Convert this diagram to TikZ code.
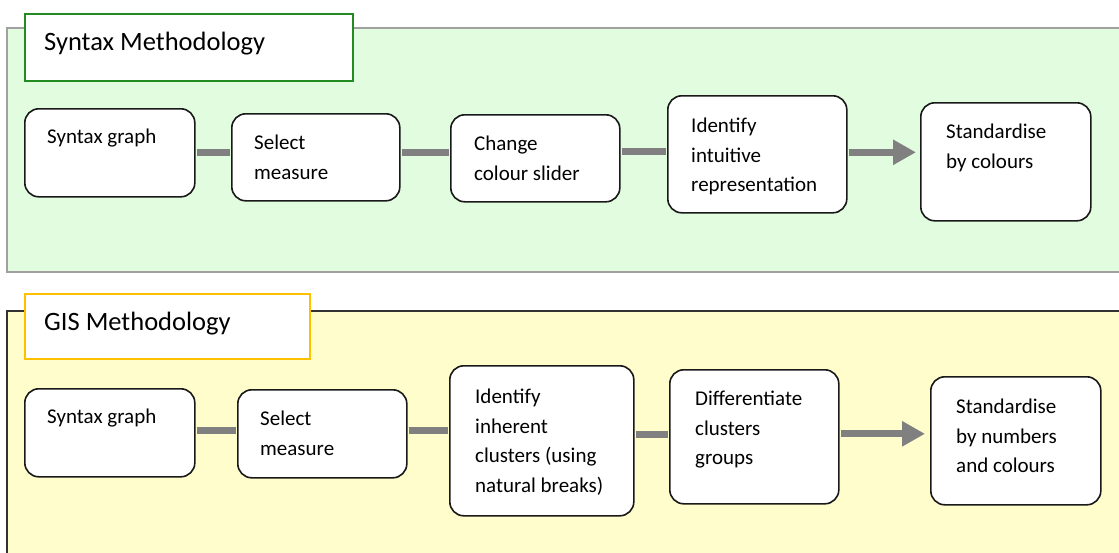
\documentclass[tikz,border=0pt]{standalone}
\usepackage{fontspec}
\setmainfont{Carlito}
\usetikzlibrary{arrows.meta, positioning}
\definecolor{syntaxfill}{RGB}{226,252,223}
\definecolor{syntaxedge}{RGB}{160,160,160}
\definecolor{syntaxtitle}{RGB}{34,139,34}
\definecolor{gisfill}{RGB}{255,253,204}
\definecolor{gisedge}{RGB}{50,50,50}
\definecolor{gistitle}{RGB}{255,192,0}
\definecolor{linkgray}{RGB}{128,128,128}

\begin{document}
\begin{tikzpicture}[x=1pt, y=-1pt,
    titlebox/.style={line width=2pt, fill=white, anchor=north west, inner sep=0pt},
    titletext/.style={font=\fontsize{26.5}{32}\selectfont, inner sep=0pt},
    box/.style={draw=black!90, line width=1.6pt, fill=white, rounded corners=14pt, anchor=north west, inner sep=0pt},
    lbl/.style={font=\fontsize{21}{29.5}\selectfont, align=left, inner sep=0pt},
    link/.style={draw=linkgray, line width=7pt, shorten <=1pt, shorten >=1pt},
    head/.style={-{Triangle[length=23pt, width=24pt]}}]
    \useasboundingbox (0,0) rectangle (1119,552);
    \clip (0,0) rectangle (1119,552);

    % Syntax panel
    \draw[fill=syntaxfill, draw=syntaxedge, line width=2pt] (7,28) rectangle (1135,272);
    \node[titlebox, draw=syntaxtitle, minimum width=328pt, minimum height=67pt] (t1) at (24,13) {};
    \node[titletext, below right=37pt and 20pt of t1.north west, anchor=base west] (t1t) {Syntax Methodology};

    \node[box, minimum width=170pt, minimum height=88pt] (s1) at (24,108) {};
    \node[box, minimum width=168pt, minimum height=87pt] (s2) at (231,113) {};
    \node[box, minimum width=169pt, minimum height=87pt] (s3) at (450,114) {};
    \node[box, minimum width=179pt, minimum height=117pt] (s4) at (667,95) {};
    \node[box, minimum width=170pt, minimum height=118pt] (s5) at (920,102) {};

    \node[lbl, below right=21pt and 23pt of s1.north west] (s1t) {Syntax graph};
    \node[lbl, below right=22pt and 23pt of s2.north west] (s2t) {Select\\measure};
    \node[lbl, below right=22pt and 24pt of s3.north west] (s3t) {Change\\colour slider};
    \node[lbl, below right=23pt and 24pt of s4.north west] (s4t) {Identify\\intuitive\\representation};
    \node[lbl, below right=22pt and 26pt of s5.north west] (s5t) {Standardise\\by colours};

    \draw[link] (s1.east) -- (s1.east -| s2.west);
    \draw[link] (s1.east -| s2.east) -- (s1.east -| s3.west);
    \draw[link] ([yshift=1pt]s1.east -| s3.east) -- ([yshift=1pt]s1.east -| s4.west);
    \draw[link, head, shorten >=4pt] ([yshift=2pt]s4.east) -- ([yshift=2pt]s4.east -| s5.west);

    % GIS panel
    \draw[fill=gisfill, draw=gisedge, line width=2.5pt] (7,311) rectangle (1135,580);
    \node[titlebox, draw=gistitle, minimum width=285pt, minimum height=65pt] (t2) at (24,293) {};
    \node[titletext, below right=37pt and 20pt of t2.north west, anchor=base west] (t2t) {GIS Methodology};

    \node[box, minimum width=170pt, minimum height=88pt] (b1) at (24,388) {};
    \node[box, minimum width=169pt, minimum height=88pt] (b2) at (237,389) {};
    \node[box, minimum width=184pt, minimum height=150pt] (b3) at (449,365) {};
    \node[box, minimum width=169pt, minimum height=134pt] (b4) at (669,369) {};
    \node[box, minimum width=170pt, minimum height=128pt] (b5) at (930,376) {};

    \node[lbl, below right=21pt and 23pt of b1.north west] (b1t) {Syntax graph};
    \node[lbl, below right=22pt and 23pt of b2.north west] (b2t) {Select\\measure};
    \node[lbl, below right=24pt and 26pt of b3.north west] (b3t) {Identify\\inherent\\clusters (using\\natural breaks)};
    \node[lbl, below right=22pt and 26pt of b4.north west] (b4t) {Differentiate\\clusters\\groups};
    \node[lbl, below right=23pt and 26pt of b5.north west] (b5t) {Standardise\\by numbers\\and colours};

    \draw[link] ([yshift=2pt]b1.east) -- ([yshift=2pt]b1.east -| b2.west);
    \draw[link] ([yshift=3pt]b2.east) -- ([yshift=3pt]b2.east -| b3.west);
    \draw[link] ([yshift=2pt]b4.west -| b3.east) -- ([yshift=2pt]b4.west);
    \draw[link, head, shorten >=5pt] ([yshift=3pt]b4.east) -- ([yshift=3pt]b4.east -| b5.west);
\end{tikzpicture}
\end{document}
